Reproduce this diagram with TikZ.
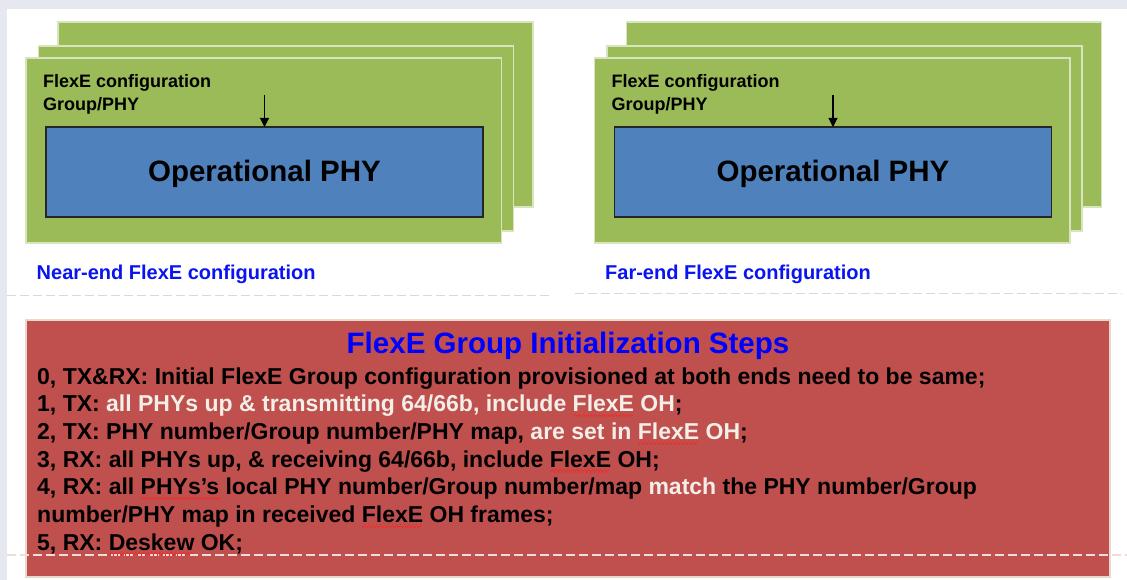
\documentclass[tikz,border=0pt]{standalone}
\usepackage{fontspec}
\setmainfont{Liberation Sans}
\usetikzlibrary{arrows.meta}

\definecolor{pagebg}{HTML}{E6E8F0}
\definecolor{platefill}{HTML}{9BBB59}
\definecolor{plateedge}{HTML}{D7E4BD}
\definecolor{phyfill}{HTML}{4F81BD}
\definecolor{stepsfill}{HTML}{C0504D}
\definecolor{stepsedge}{HTML}{E8D9CB}
\definecolor{titleblue}{HTML}{0000FF}
\definecolor{labelblue}{HTML}{0A14F0}
\definecolor{hltext}{HTML}{F2EFE8}
\definecolor{spellred}{HTML}{FF2020}
\definecolor{rulegray}{HTML}{D9D9D9}
\definecolor{boxrule}{HTML}{EEDDDB}

% wavy spelling mark under a word, built from tiny stepped rules
\newsavebox\spellbox
\newcount\spellcnt
\newcommand\spellwave{\hbox{%
    \raisebox{-5.5pt}{\rule{1pt}{1.1pt}}\raisebox{-4.3pt}{\rule{1pt}{1.1pt}}%
    \raisebox{-3.1pt}{\rule{1pt}{1.1pt}}\raisebox{-4.3pt}{\rule{1pt}{1.1pt}}}}
\newcommand\spellmark[1]{%
  \sbox\spellbox{#1}%
  \spellcnt=\numexpr\dimexpr\wd\spellbox\relax/\dimexpr 4pt\relax\relax
  \rlap{\textcolor{spellred}{\loop\ifnum\spellcnt>0 \spellwave\advance\spellcnt by -1 \repeat}}%
  \usebox\spellbox}
\newcommand\hl[1]{\textcolor{hltext}{#1}}

\tikzset{
  plate/.style={draw=plateedge, line width=1.5pt, fill=platefill, anchor=north west,
    inner sep=0pt, outer sep=0pt},
  phybox/.style={draw=black!85, line width=1.5pt, fill=phyfill, anchor=north west,
    inner sep=0pt, outer sep=0pt},
  phytext/.style={anchor=base, inner sep=0pt, font=\bfseries\fontsize{29.5}{35}\selectfont},
  cfgtext/.style={anchor=base west, inner sep=0pt, font=\bfseries\fontsize{18}{21.6}\selectfont},
  endlabel/.style={anchor=base west, inner sep=0pt, text=labelblue,
    font=\bfseries\fontsize{20}{24}\selectfont},
  cfgarrow/.style={draw=black, line width=1.1pt, -{Triangle[width=9pt,length=9pt]}},
  stepsbox/.style={draw=stepsedge, line width=1.2pt, fill=stepsfill, anchor=north west,
    inner sep=0pt, outer sep=0pt},
  stepstitle/.style={anchor=base, inner sep=0pt, text=titleblue,
    font=\bfseries\fontsize{29.5}{35}\selectfont},
  stepline/.style={anchor=base west, inner sep=0pt, font=\bfseries\fontsize{23}{27.7}\selectfont},
  sepdash/.style={draw=rulegray, line width=1pt, dash pattern=on 9pt off 4pt},
  boxdash/.style={draw=boxrule, line width=1.2pt, dash pattern=on 9pt off 4pt},
}

% one stack of FlexE configuration plates
\newcommand\flexestack[3]{%
  \begin{scope}[xshift=#2]
    \node[plate, minimum width=475pt, minimum height=185pt] (#1back) at (58,22) {};
    \node[plate, minimum width=475pt, minimum height=185pt] (#1mid) at (38.5,46) {};
    \node[plate, minimum width=475.5pt, minimum height=185pt] (#1front) at (26,58) {};
    \node[phybox, minimum width=437pt, minimum height=90pt] (#1phy) at (46,127) {};
    \node[phytext] (#1phytxt) at (264.5,182) {Operational PHY};
    \node[cfgtext] (#1cfgA) at (43,88) {FlexE configuration};
    \node[cfgtext] (#1cfgB) at (43,110.7) {Group/PHY};
    \coordinate (#1src) at (264.5,95);
    \draw[cfgarrow] (#1src) -- (#1phy.north);
    \node[endlabel] (#1label) at (36.5,279) {#3};
  \end{scope}}

\begin{document}
\begin{tikzpicture}[x=1pt, y=-1pt]
  \useasboundingbox (0,0) rectangle (1127,580);
  \fill[pagebg] (0,0) rectangle (1127,580);
  \fill[white] (7,9) rectangle (1127,580);

  % near-end and far-end configuration stacks
  \flexestack{near}{0pt}{Near-end FlexE configuration}
  \flexestack{far}{568.5pt}{Far-end FlexE configuration}

  \draw[sepdash] (7,295.5) -- (552,295.5);
  \draw[sepdash] (575,293.3) -- (1122,293.3);

  % initialization steps
  \node[stepsbox, minimum width=1084pt, minimum height=257pt] (steps) at (26,320) {};
  \draw[boxdash] (7,555) -- (1127,555);
  \node[stepstitle] (title) at (568,353) {FlexE Group Initialization Steps};
  \node[stepline] (s0) at (37,384)
    {0, TX\&RX: Initial FlexE Group configuration provisioned at both ends need to be same;};
  \node[stepline] (s1) at (37,411.7)
    {1, TX: \hl{all PHYs up \& transmitting 64/66b, include \spellmark{FlexE} OH};};
  \node[stepline] (s2) at (37,439.3)
    {2, TX: PHY number/Group number/PHY map, \hl{are set in \spellmark{FlexE} OH};};
  \node[stepline] (s3) at (37,467)
    {3, RX: all PHYs up, \& receiving 64/66b, include \spellmark{FlexE} OH;};
  \node[stepline] (s4) at (37,494.7)
    {4, RX: all \spellmark{PHYs’s} local PHY number/Group number/map \hl{match} the PHY number/Group};
  \node[stepline] (s4b) at (37,522.3)
    {number/PHY map in received \spellmark{FlexE} OH frames;};
  \node[stepline] (s5) at (37,550)
    {5, RX: \spellmark{Deskew} OK;};
\end{tikzpicture}
\end{document}
